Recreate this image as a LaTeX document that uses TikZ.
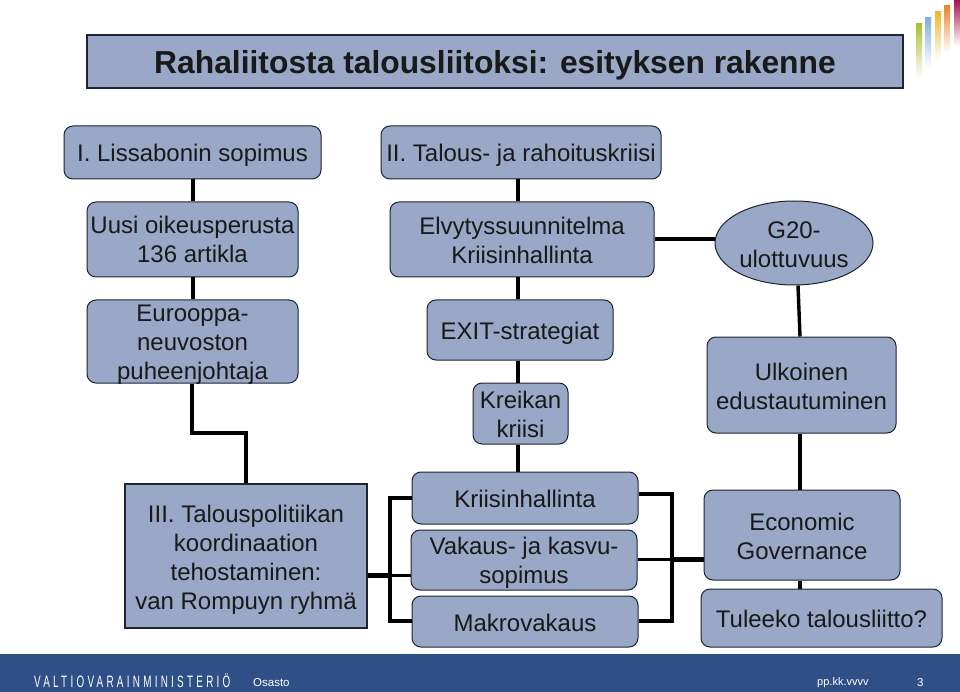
\documentclass[tikz,border=0pt]{standalone}
\usepackage{fontspec}
\usepackage{graphicx}
\setmainfont{Liberation Sans}
\newfontfamily\spaced[LetterSpace=33]{Liberation Sans}
\usetikzlibrary{shapes.geometric}
\definecolor{boxfill}{HTML}{98A8C6}
\definecolor{boxline}{HTML}{1E2433}
\definecolor{footblue}{HTML}{2F5086}
\definecolor{barA}{HTML}{A8C030}
\definecolor{barB}{HTML}{7FB0DC}
\definecolor{barC}{HTML}{F2B52A}
\definecolor{barD}{HTML}{E8862A}
\definecolor{barE}{HTML}{A8104F}
\newcommand{\dnlines}[2]{\raisebox{-#1pt}[12pt][0pt]{\begin{tabular}{@{}c@{}}#2\end{tabular}}}
\tikzset{
  x=1pt,y=-1pt,
  wh/.style n args={2}{minimum width=#1pt,minimum height=#2pt},
  low/.style={execute at begin node={\rule{0pt}{#1pt}}},
  base/.style={draw=boxline,line width=1pt,fill=boxfill,align=center,inner sep=0pt,
    font=\fontsize{24}{29}\selectfont,text=black!90},
  rbox/.style={base,rounded corners=9pt},
  sbox/.style={base,line width=1.2pt},
  link/.style={draw=black,line width=3.4pt,line join=miter},
  thinlink/.style={draw=black,line width=3pt},
  heavy/.style={draw=black,line width=5pt},
  foot/.style={text=white,inner sep=0pt,font=\fontsize{11.5}{14}\selectfont},
}
\begin{document}
\begin{tikzpicture}
\useasboundingbox (0,0) rectangle (960,692);
\fill[white] (0,0) rectangle (960,692);
% decorative bars
\shade[top color=barA,bottom color=white] (916,24) rectangle (922,78);
\shade[top color=barB,bottom color=white] (925,18) rectangle (931,68);
\shade[top color=barC,bottom color=white] (935,12) rectangle (941,60);
\shade[top color=barD,bottom color=white] (944,6) rectangle (950,52);
\shade[top color=barE,bottom color=white] (954,0) rectangle (960,46);
% footer
\fill[footblue] (0,654) rectangle (960,692);
\node[sbox,wh={816}{53},low=31,font=\fontsize{31.8}{36}\selectfont\bfseries] (title) at (495,61.5) {Rahaliitosta talousliitoksi: esityksen rakenne};
\node[rbox,wh={257}{53},low=23.5] (lis) at (192.5,152.5) {I. Lissabonin sopimus};
\node[rbox,wh={280}{53},low=23.5] (tal) at (521,152.5) {II. Talous- ja rahoituskriisi};
\node[rbox,wh={211}{75}] (uusi) at (192.5,239.5) {\dnlines{3}{Uusi oikeusperusta\\136 artikla}};
\node[rbox,wh={264}{75}] (elvy) at (522,239.5) {\dnlines{3.5}{Elvytyssuunnitelma\\Kriisinhallinta}};
\node[base,ellipse,wh={158}{84}] (g20) at (794,243) {\dnlines{4}{G20-\\ulottuvuus}};
\node[rbox,wh={211}{83}] (eur) at (192.5,341.5) {\dnlines{3.5}{Eurooppa-\\neuvoston\\puheenjohtaja}};
\node[rbox,wh={186}{60},low=23.5] (exit) at (520,330) {EXIT-strategiat};
\node[rbox,wh={95}{61}] (kre) at (520.5,413.5) {\dnlines{4}{Kreikan\\kriisi}};
\node[rbox,wh={189}{96}] (ulk) at (801.5,385) {\dnlines{4}{Ulkoinen\\edustautuminen}};
\node[sbox,wh={242}{144}] (iii) at (246,556) {\dnlines{4}{III. Talouspolitiikan\\koordinaation\\tehostaminen:\\van Rompuyn ryhmä}};
\node[rbox,wh={226}{52},low=19.5] (kri) at (525,498) {Kriisinhallinta};
\node[rbox,wh={226}{60}] (vak) at (524,560) {\dnlines{3.5}{Vakaus- ja kasvu-\\sopimus}};
\node[rbox,wh={226}{51},low=19.5] (mak) at (525,621.5) {Makrovakaus};
\node[rbox,wh={196}{90}] (eco) at (802,535) {\dnlines{4}{Economic\\Governance}};
\node[rbox,wh={241}{58},low=19.5] (tul) at (821.5,618) {Tuleeko talousliitto?};
\node[foot,anchor=west,font=\fontsize{16.5}{18}\selectfont\spaced] (vm) at (34,681) {\scalebox{0.6}[1]{VALTIOVARAINMINISTERIÖ}};
\node[foot,anchor=west] (osa) at (253,683) {Osasto};
\node[foot,anchor=west,font=\fontsize{11}{14}\selectfont] (pp) at (817,683) {pp.kk.vvvv};
\node[foot,anchor=west] (num) at (917,683) {3};
% junctions
\coordinate (lj) at (390,575);
\coordinate (rj) at (672,559);
\coordinate (xa) at (193,0);
\coordinate (xb) at (518,0);
\coordinate (xc) at (800,0);
\coordinate (xd) at (246,0);
\coordinate (xe) at (192,0);
\coordinate (ya) at (0,239);
\coordinate (yb) at (0,498);
\coordinate (yc) at (0,621);
\coordinate (yd) at (0,494);
\coordinate (ye) at (0,559);
% connectors
\draw[link] (lis.south -| xa) -- (uusi.north -| xa);
\draw[link] (uusi.south -| xa) -- (eur.north -| xa);
\draw[link] (tal.south -| xb) -- (elvy.north -| xb);
\draw[link] (elvy.south -| xb) -- (exit.north -| xb);
\draw[link] (exit.south -| xb) -- (kre.north -| xb);
\draw[link] (kre.south -| xb) -- (kri.north -| xb);
\draw[link] (elvy.east |- ya) -- (g20.west |- ya);
\draw[link] (g20.south) ++(4,0) -- (ulk.north -| xc);
\draw[link] (ulk.south -| xc) -- (eco.north -| xc);
\draw[link] (eco.south -| xc) -- (tul.north -| xc);
\draw[link] (eur.south -| xe) -- (192,433) -- (246,433) -- (iii.north -| xd);
\draw[heavy] (iii.east |- lj) -- (lj);
\draw[thinlink] (lj) -- (vak.west |- lj);
\draw[link] (kri.west |- yb) -- (390,498) -- (390,621) -- (mak.west |- yc);
\draw[link] (kri.east |- yd) -- (672,494) -- (672,621) -- (mak.east |- yc);
\draw[thinlink] (vak.east |- ye) -- (rj);
\draw[heavy] (rj) -- (eco.west |- rj);
\end{tikzpicture}
\end{document}
